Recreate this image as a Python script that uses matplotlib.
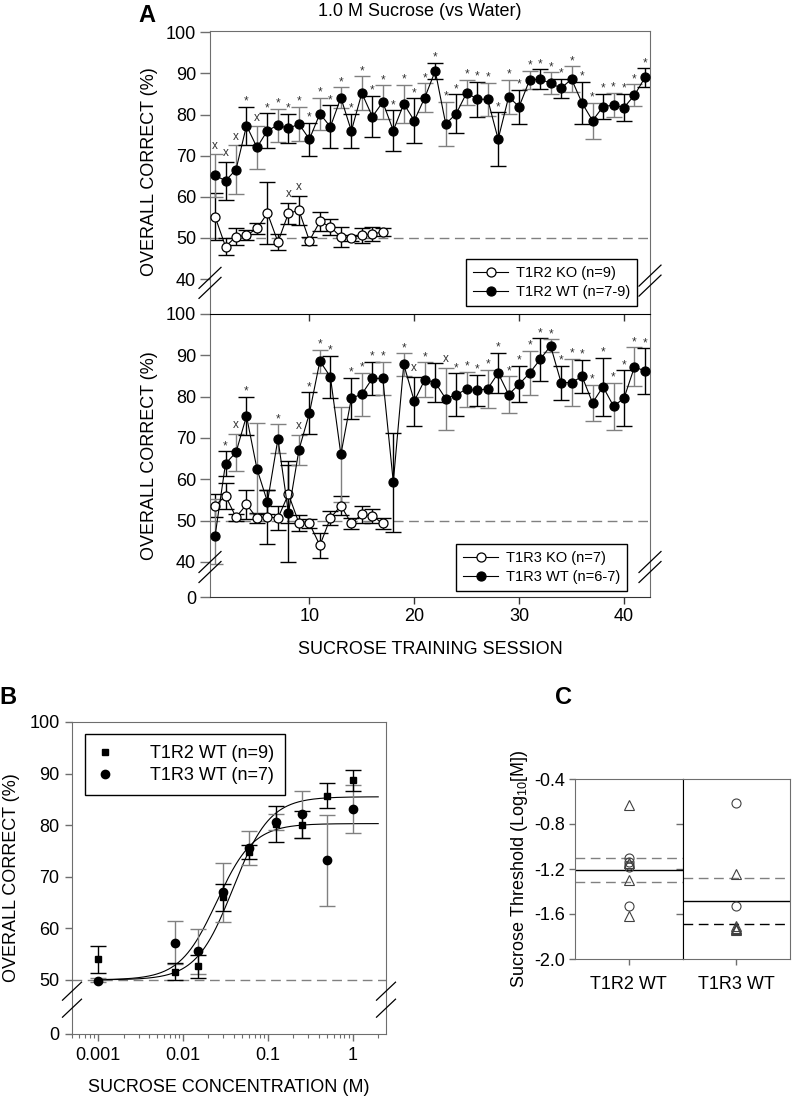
import numpy as np
import matplotlib
matplotlib.use('Agg')
import matplotlib.pyplot as plt
from matplotlib.lines import Line2D
from matplotlib.ticker import LogLocator, NullFormatter, FixedLocator, FixedFormatter

plt.rcParams['font.family'] = ['Liberation Sans', 'DejaVu Sans']
plt.rcParams['mathtext.default'] = 'regular'

W, H = 792, 1100
GRAY = '#808080'
SPINE = '#6e6e6e'
FS = 13

# ---------------- DATA ----------------
sessions = list(range(1, 43))
ko_sessions = list(range(1, 18))

t1r2_wt = [65.2, 63.9, 66.6, 77.3, 72.0, 76.1, 77.4, 76.6, 77.7, 74.0,
           80.2, 77.0, 84.1, 76.0, 85.2, 79.5, 83.0, 76.1, 82.6, 78.5,
           84.1, 90.6, 77.7, 80.2, 85.3, 83.7, 83.7, 74.0, 84.3, 81.9,
           88.4, 88.6, 87.6, 86.4, 88.6, 82.8, 78.5, 81.9, 82.3, 81.7, 84.7, 89.0]
t1r2_wt_err = [5.2, 4.6, 5.9, 4.6, 5.2, 4.2, 4.0, 3.5, 4.2, 4.0,
               3.9, 5.2, 2.5, 4.2, 4.1, 5.0, 4.1, 4.9, 4.6, 5.4,
               3.5, 2.0, 5.4, 4.7, 3.1, 4.2, 4.0, 6.5, 4.1, 4.1,
               2.2, 2.4, 2.7, 2.3, 3.1, 5.2, 4.4, 3.1, 2.9, 3.3, 2.6, 2.2]
t1r2_ko = [55.2, 47.9, 50.3, 50.6, 52.3, 56.0, 49.0, 56.0, 56.7, 49.3,
           54.0, 52.7, 50.2, 50.0, 50.6, 51.0, 51.4]
t1r2_ko_err = [5.8, 2.0, 2.0, 1.2, 1.3, 7.5, 2.0, 2.5, 3.5, 1.0,
               2.4, 1.9, 2.5, 0.7, 1.9, 1.7, 1.0]
t1r2_wt_sig = "xxx*x*************************************"
t1r2_ko_sig = ".......xx........"

t1r3_wt = [46.2, 63.8, 66.5, 75.3, 62.5, 54.5, 69.8, 51.8, 67.1, 76.0,
           88.6, 84.8, 66.0, 79.6, 80.6, 84.4, 84.4, 59.3, 87.8, 78.9,
           84.1, 83.4, 79.5, 80.5, 81.8, 81.5, 81.9, 85.7, 80.5, 83.0,
           85.7, 89.0, 92.3, 83.4, 83.4, 84.9, 78.5, 82.4, 77.7, 79.6, 87.2, 86.2]
t1r3_wt_err = [9.0, 3.0, 4.5, 4.7, 11.0, 3.0, 3.5, 12.5, 3.7, 5.0,
               2.8, 5.1, 11.5, 5.0, 5.2, 4.0, 4.0, 12.0, 2.7, 5.9,
               4.2, 4.7, 7.5, 5.1, 4.2, 3.8, 4.6, 4.9, 4.4, 4.4,
               5.4, 5.1, 1.6, 4.1, 5.7, 4.0, 4.4, 7.0, 5.7, 6.8, 4.7, 5.5]
t1r3_ko = [53.6, 56.0, 50.8, 53.9, 50.6, 50.9, 50.6, 56.4, 49.4, 49.3,
           44.0, 50.6, 53.6, 49.3, 51.5, 51.1, 49.3]
t1r3_ko_err = [2.8, 3.2, 0.8, 3.5, 1.2, 6.6, 3.0, 7.0, 2.0, 1.0,
               3.0, 1.6, 2.3, 1.4, 2.0, 1.8, 1.4]
t1r3_wt_sig = ".*x*..*.x***.****.*x*.x*******************"
t1r3_ko_sig = "................."

# Panel B
conc = [0.001, 0.008, 0.015, 0.03, 0.06, 0.125, 0.25, 0.5, 1.0]
b_t1r2 = [54.0, 51.6, 52.6, 66.0, 74.8, 80.2, 80.1, 85.7, 88.7]
b_t1r2_err = [2.6, 1.7, 2.2, 2.6, 1.4, 3.5, 2.6, 2.4, 2.0]
b_t1r3 = [49.2, 57.2, 55.5, 67.0, 75.5, 80.6, 82.1, 73.2, 83.1]
b_t1r3_err = [1.2, 4.2, 4.3, 5.7, 3.3, 1.5, 4.5, 8.8, 4.7]
fit_t1r2 = dict(bottom=50.0, top=85.5, ec50=0.039, hill=2.0)
fit_t1r3 = dict(bottom=50.0, top=80.3, ec50=0.025, hill=2.0)

# Panel C
c_groups = ['T1R2 WT', 'T1R3 WT']
c_t1r2_circ = [-1.10, -1.135, -1.16, -1.185, -1.53]
c_t1r2_tri = [-0.63, -1.15, -1.30, -1.62]
c_t1r3_circ = [-0.61, -1.53]
c_t1r3_tri = [-1.24, -1.71, -1.72, -1.73, -1.74]
c_mean = [-1.21, -1.48]
c_lo = [-1.316, -1.689]
c_hi = [-1.105, -1.277]


# ---------------- helpers ----------------
def px_axes(l, t, r, b):
    return [l / W, 1 - b / H, (r - l) / W, (b - t) / H]


def fwdA(y):
    y = np.asarray(y, float)
    return np.where(y >= 40, y, 31.5 + y * 8.5 / 40)


def invA(u):
    u = np.asarray(u, float)
    return np.where(u >= 40, u, (u - 31.5) * 40 / 8.5)


def fwdB(y):
    y = np.asarray(y, float)
    return np.where(y >= 50, y, 39.5 + y * 10.5 / 50)


def invB(u):
    u = np.asarray(u, float)
    return np.where(u >= 50, u, (u - 39.5) * 50 / 10.5)


def break_marks(ax, xf, yf, w_px, h_px, sep_px, color='k'):
    bb = ax.get_position()
    axw = bb.width * W
    axh = bb.height * H
    dx = w_px / 2 / axw
    dy = h_px / 2 / axh
    s = sep_px / 2 / axh
    for off in (-s, s):
        ax.plot([xf - dx, xf + dx], [yf + off - dy, yf + off + dy],
                transform=ax.transAxes, color=color, lw=0.9,
                clip_on=False, zorder=5)


def draw_series(ax, x, y, e, filled, sig):
    for i in range(len(x)):
        if filled:
            col = GRAY if i % 2 == 0 else 'k'
        else:
            col = 'k'
        ax.errorbar(x[i], y[i], yerr=e[i], fmt='none', ecolor=col,
                    elinewidth=1.0, capsize=6, capthick=1.0, zorder=2)
    ln, = ax.plot(x, y, '-', color='k', lw=0.8, marker='o', ms=6.5,
                  mfc='k' if filled else 'white', mec='k', mew=0.9, zorder=3)
    for i, s in enumerate(sig):
        if s in '*x':
            ax.text(x[i], y[i] + e[i] + (0.6 if s == 'x' else -0.2), s,
                    ha='center', va='bottom', fontsize=8.5, color='#333333',
                    zorder=4)
    return ln


def style_A(ax):
    ax.set_xlim(0.52, 42.48)
    ax.axhline(50, color=GRAY, lw=1.0, ls=(0, (7, 4)), zorder=1)
    ax.tick_params(axis='y', direction='out', length=7, width=1,
                   color=SPINE, labelsize=FS, pad=3)
    for sp in ('left', 'right', 'top'):
        ax.spines[sp].set_color(SPINE)


fig = plt.figure(figsize=(W / 100, H / 100), dpi=100)

# ---------------- Panel A top ----------------
axA1 = fig.add_axes(px_axes(210, 31, 650, 314))
axA1.set_ylim(31.5, 100.3)
style_A(axA1)
axA1.set_yticks([40, 50, 60, 70, 80, 90, 100])
axA1.set_xticks([])
axA1.spines['bottom'].set_visible(False)
ko1 = draw_series(axA1, ko_sessions, t1r2_ko, t1r2_ko_err, False, t1r2_ko_sig)
wt1 = draw_series(axA1, sessions, t1r2_wt, t1r2_wt_err, True, t1r2_wt_sig)
lg = axA1.legend([ko1, wt1], ['T1R2 KO (n=9)', 'T1R2 WT (n=7-9)'],
                 loc='lower left', bbox_to_anchor=(0.582, 0.028),
                 fontsize=10.5, frameon=True, fancybox=False, edgecolor='k',
                 framealpha=1, handlelength=2.4, borderpad=0.5,
                 labelspacing=0.3, handletextpad=0.5, borderaxespad=0)
lg.get_frame().set_linewidth(1.0)
break_marks(axA1, 0.0, 0.11, 22, 21, 10)
break_marks(axA1, 1.0, 0.118, 22, 21, 10)

# ---------------- Panel A bottom ----------------
axA2 = fig.add_axes(px_axes(210, 314, 650, 597))
axA2.set_yscale('function', functions=(fwdA, invA))
axA2.set_ylim(0, 100)
style_A(axA2)
axA2.set_yticks([0, 40, 50, 60, 70, 80, 90, 100])
axA2.set_yticklabels(['0', '40', '50', '60', '70', '80', '90', '100'])
axA2.minorticks_off()
axA2.spines['top'].set_color('k')
axA2.spines['bottom'].set_color('#333333')
axA2.set_xticks([10, 20, 30, 40])
axA2.tick_params(axis='x', direction='out', length=5, width=1,
                 color='#333333', labelsize=FS, pad=3)
sec = axA2.secondary_xaxis('top')
sec.set_xticks([10, 20, 30, 40])
sec.tick_params(axis='x', direction='in', length=5, width=1,
                color='#333333', labeltop=False)
sec.spines['top'].set_visible(False)
ko2 = draw_series(axA2, ko_sessions, t1r3_ko, t1r3_ko_err, False, t1r3_ko_sig)
wt2 = draw_series(axA2, sessions, t1r3_wt, t1r3_wt_err, True, t1r3_wt_sig)
lg2 = axA2.legend([ko2, wt2], ['T1R3 KO (n=7)', 'T1R3 WT (n=6-7)'],
                  loc='lower left', bbox_to_anchor=(0.559, 0.021),
                  fontsize=10.5, frameon=True, fancybox=False, edgecolor='k',
                  framealpha=1, handlelength=2.4, borderpad=0.5,
                  labelspacing=0.3, handletextpad=0.5, borderaxespad=0)
lg2.get_frame().set_linewidth(1.0)
break_marks(axA2, 0.0, 0.106, 22, 21, 10)
break_marks(axA2, 1.0, 0.106, 22, 21, 10)

fig.text(0.530, 1 - 11 / H, '1.0 M Sucrose (vs Water)', ha='center',
         va='center', fontsize=FS)
fig.text(147 / W, 1 - 15 / H, 'A', ha='center', va='center',
         fontsize=17, fontweight='bold')
fig.text(149 / W, 1 - 172 / H, 'OVERALL CORRECT (%)', rotation=90,
         ha='center', va='center', fontsize=FS)
fig.text(149 / W, 1 - 456 / H, 'OVERALL CORRECT (%)', rotation=90,
         ha='center', va='center', fontsize=FS)
fig.text(430 / W, 1 - 650 / H, 'SUCROSE TRAINING SESSION', ha='center',
         va='center', fontsize=FS)

# ---------------- Panel B ----------------
axB = fig.add_axes(px_axes(72, 722, 386, 1034))
axB.set_xscale('log')
axB.set_yscale('function', functions=(fwdB, invB))
axB.set_xlim(0.000494, 2.47)
axB.set_ylim(0, 100)
axB.set_yticks([0, 50, 60, 70, 80, 90, 100])
axB.set_yticklabels(['0', '50', '60', '70', '80', '90', '100'])
axB.yaxis.set_minor_locator(FixedLocator([]))
axB.xaxis.set_major_locator(FixedLocator([0.001, 0.01, 0.1, 1]))
axB.xaxis.set_major_formatter(FixedFormatter(['0.001', '0.01', '0.1', '1']))
axB.xaxis.set_minor_locator(LogLocator(base=10, subs=np.arange(2, 10), numticks=20))
axB.xaxis.set_minor_formatter(NullFormatter())
axB.tick_params(axis='both', which='major', direction='out', length=5,
                width=1, color=SPINE, labelsize=FS, pad=4)
axB.tick_params(axis='x', which='minor', direction='out', length=3,
                width=0.8, color=SPINE)
for sp in axB.spines.values():
    sp.set_color(SPINE)
axB.axhline(50, color=GRAY, lw=1.0, ls=(0, (7, 4)), zorder=1)
xc = np.logspace(-3, np.log10(2.0), 300)
for p in (fit_t1r2, fit_t1r3):
    yc = p['bottom'] + (p['top'] - p['bottom']) / (1 + (p['ec50'] / xc) ** p['hill'])
    axB.plot(xc, yc, color='k', lw=0.8, zorder=2)
axB.errorbar(conc, b_t1r3, yerr=b_t1r3_err, fmt='none', ecolor=GRAY,
             elinewidth=1, capsize=6, capthick=1, zorder=3)
axB.errorbar(conc, b_t1r2, yerr=b_t1r2_err, fmt='none', ecolor='k',
             elinewidth=1, capsize=6, capthick=1, zorder=3)
axB.plot(conc, b_t1r2, 's', color='k', ms=5, zorder=4)
axB.plot(conc, b_t1r3, 'o', color='k', ms=6, zorder=4)
hB = [Line2D([], [], marker='s', ls='none', color='k', ms=5),
      Line2D([], [], marker='o', ls='none', color='k', ms=6)]
lgB = axB.legend(hB, ['T1R2 WT (n=9)', 'T1R3 WT (n=7)'], loc='upper left',
                 bbox_to_anchor=(0.042, 0.961), fontsize=FS, frameon=True,
                 fancybox=False, edgecolor='k', framealpha=1,
                 handlelength=1.0, handletextpad=2.0, borderpad=0.6,
                 labelspacing=0.3, borderaxespad=0)
lgB.get_frame().set_linewidth(1.0)
break_marks(axB, 0.0, 0.11, 19, 18, 17)
break_marks(axB, 1.0, 0.11, 19, 18, 17)
fig.text(8 / W, 1 - 697 / H, 'B', ha='center', va='center', fontsize=17,
         fontweight='bold')
fig.text(12 / W, 1 - 878 / H, 'OVERALL CORRECT (%)', rotation=90,
         ha='center', va='center', fontsize=FS)
fig.text(229 / W, 1 - 1088 / H, 'SUCROSE CONCENTRATION (M)', ha='center',
         va='center', fontsize=FS)

# ---------------- Panel C ----------------
axC1 = fig.add_axes(px_axes(575, 779, 682.5, 959))
axC2 = fig.add_axes(px_axes(682.5, 779, 790, 959))
groups = [(axC1, c_t1r2_circ, c_t1r2_tri, 0), (axC2, c_t1r3_circ, c_t1r3_tri, 1)]
for ax, circ, tri, k in groups:
    ax.set_xlim(-0.5, 0.5)
    ax.set_ylim(-2.0, -0.4)
    ax.set_xticks([0])
    ax.set_xticklabels([c_groups[k]])
    ax.tick_params(axis='x', direction='out', length=4, width=1,
                   color=SPINE, labelsize=FS, pad=8)
    for sp in ax.spines.values():
        sp.set_color(SPINE)
    ax.plot([0] * len(circ), circ, 'o', ms=6.5, mfc='none', mec='#404040',
            mew=0.8, zorder=3)
    ax.plot([0] * len(tri), tri, '^', ms=6.5, mfc='none', mec='#404040',
            mew=0.8, zorder=3)
    ax.axhline(c_mean[k], color='k', lw=1.0, zorder=2)
    ax.axhline(c_hi[k], color=GRAY, lw=1.0, ls=(0, (7, 4)), zorder=2)
    ax.axhline(c_lo[k], color=GRAY if k == 0 else 'k', lw=1.0,
               ls=(0, (7, 4)), zorder=2)
axC1.set_yticks([-0.4, -0.8, -1.2, -1.6, -2.0])
axC1.set_yticklabels(['-0.4', '-0.8', '-1.2', '-1.6', '-2.0'])
axC1.tick_params(axis='y', direction='out', length=4, width=1, color=SPINE,
                 labelsize=FS, pad=3)
axC1.spines['right'].set_color('k')
axC2.spines['left'].set_color('k')
sr = axC1.secondary_yaxis('right')
sr.set_yticks([-0.8, -1.2, -1.6])
sr.tick_params(axis='y', direction='in', length=5, width=1, color=SPINE,
               labelright=False)
sr.spines['right'].set_visible(False)
axC2.set_yticks([])
fig.text(563 / W, 1 - 697 / H, 'C', ha='center', va='center', fontsize=17,
         fontweight='bold')
fig.text(520 / W, 1 - 869 / H, 'Sucrose Threshold (Log$_{10}$[M])',
         rotation=90, ha='center', va='center', fontsize=FS)

fig.savefig('out.png', dpi=100)
